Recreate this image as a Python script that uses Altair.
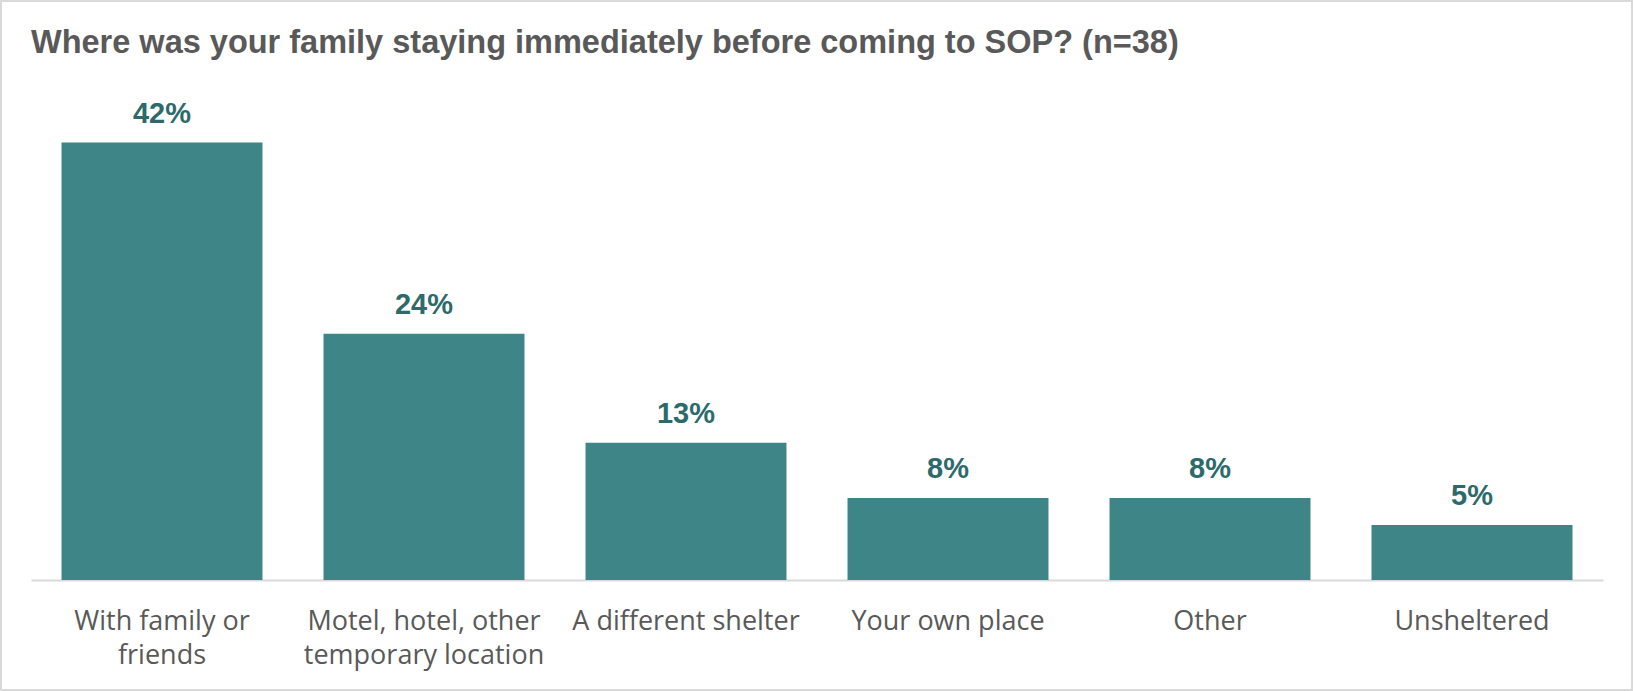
import altair as alt
import pandas as pd

title_text = "Where was your family staying immediately before coming to SOP? (n=38)"
categories = ["With family or friends", "Motel, hotel, other temporary location",
              "A different shelter", "Your own place", "Other", "Unsheltered"]
label_lines = [["With family or", "friends"], ["Motel, hotel, other", "temporary location"],
               ["A different shelter"], ["Your own place"], ["Other"], ["Unsheltered"]]
values = [42.1, 23.7, 13.2, 7.9, 7.9, 5.3]
value_labels = ["42%", "24%", "13%", "8%", "8%", "5%"]

df = pd.DataFrame({"cat": categories, "val": values, "lab": value_labels})
tdf = pd.DataFrame({"t": [title_text]})

W, H = 1572, 480
BAR = "#3D8587"
GRAY = "#595959"

expr_parts = []
for c, lines in zip(categories, label_lines):
    arr = "[" + ",".join("'" + l + "'" for l in lines) + "]"
    expr_parts.append(f"datum.label == '{c}' ? {arr} : ")
label_expr = "".join(expr_parts) + "datum.label"

x = alt.X("cat:N", sort=categories, title=None,
          scale=alt.Scale(paddingInner=0.233, paddingOuter=0.1165),
          axis=alt.Axis(labelAngle=0, labelExpr=label_expr, labelFont="Open Sans",
                        labelFontSize=27, labelColor=GRAY, labelLineHeight=34,
                        labelPadding=28, labelLimit=400, labelOverlap=False,
                        ticks=False, tickSize=0, domainColor="#D9D9D9",
                        domainWidth=2, labelBaseline="top"))
y = alt.Y("val:Q", title=None, scale=alt.Scale(domain=[0, 46.2], nice=False),
          axis=None)

bars = alt.Chart(df).mark_bar(color=BAR).encode(x=x, y=y)
texts = alt.Chart(df).mark_text(font="Liberation Sans", fontSize=29, fontWeight="bold",
                                color="#2C6A6B", baseline="alphabetic", dy=-20).encode(
    x=alt.X("cat:N", sort=categories), y="val:Q", text="lab:N")
frame = alt.Chart(tdf).mark_rect(fill=None, stroke="#D9D9D9", strokeWidth=2).encode(
    x=alt.value(-30), x2=alt.value(1601), y=alt.value(-99), y2=alt.value(590))
title = alt.Chart(tdf).mark_text(font="Liberation Sans", fontSize=32.5, fontWeight="bold",
                                 color=GRAY, align="left", baseline="alphabetic").encode(
    x=alt.value(0), y=alt.value(-47), text="t:N")

chart = alt.layer(frame, bars, texts, title).properties(
    width=W, height=H,
    autosize=alt.AutoSizeParams(type="none"),
    padding={"left": 31, "top": 100, "right": 30, "bottom": 111},
    background="white",
).configure_view(stroke=None)

chart.save("out.html", embed_options={"renderer": "svg", "actions": False})
